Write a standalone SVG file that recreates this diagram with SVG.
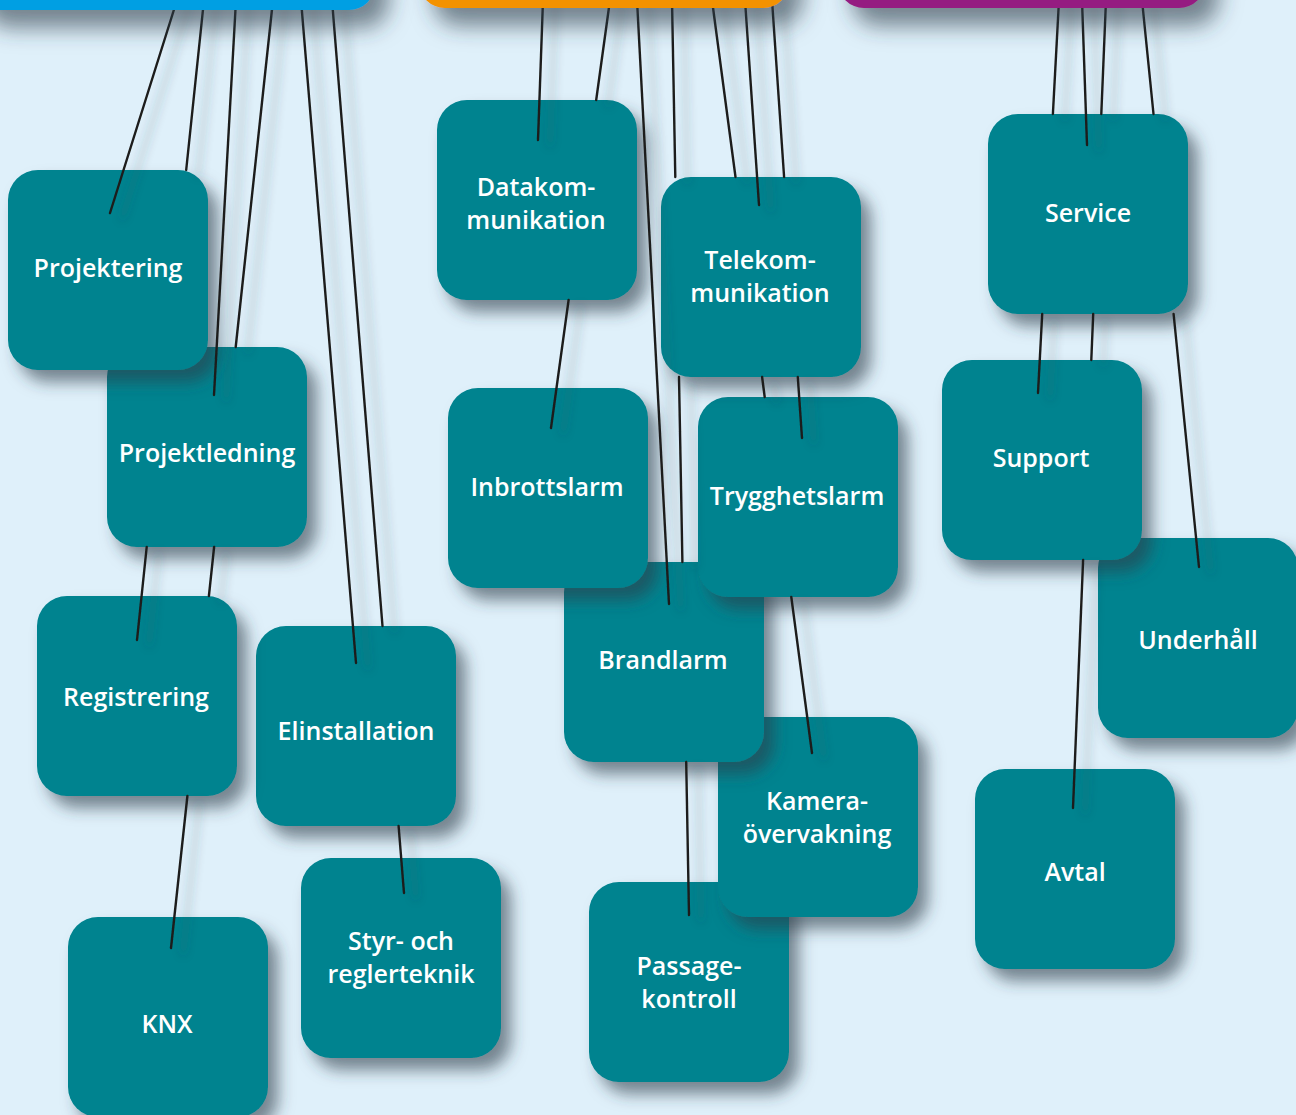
<svg xmlns="http://www.w3.org/2000/svg" width="1296" height="1115" viewBox="0 0 1296 1115">
<defs>
<filter id="nsh" x="-20%" y="-20%" width="160%" height="160%">
<feDropShadow dx="10" dy="12" stdDeviation="8" flood-color="#2d3e4a" flood-opacity="0.6"/>
</filter>
<filter id="bsh" x="-10%" y="-50%" width="130%" height="300%">
<feDropShadow dx="14" dy="18" stdDeviation="11" flood-color="#2d3e4a" flood-opacity="0.6"/>
</filter>
<filter id="lsh" x="-10%" y="-10%" width="130%" height="130%">
<feDropShadow dx="12" dy="6" stdDeviation="5" flood-color="#2d3e4a" flood-opacity="0.4"/>
</filter>
<style>
.node{fill:#00838f;filter:url(#nsh)}
.lbl{fill:#ffffff;font-family:"Open Sans","Noto Sans","Liberation Sans",sans-serif;font-weight:600;font-size:25px;text-anchor:middle}
.wire{stroke:#1d1d1b;stroke-width:2.4;fill:none;stroke-linecap:round}
</style>
</defs>
<rect x="0" y="0" width="1296" height="1115" fill="#dff0fa"/>

<g id="nodes">
<g id="knx"><rect class="node" x="68" y="917" width="200" height="200" rx="30"/><text class="lbl" x="167" y="1033">KNX</text></g>
<g id="passagekontroll"><rect class="node" x="589" y="882" width="200" height="200" rx="30"/><text class="lbl" x="689" y="975">Passage-</text><text class="lbl" x="689" y="1008">kontroll</text></g>
<g id="styr"><rect class="node" x="301" y="858" width="200" height="200" rx="30"/><text class="lbl" x="401" y="950">Styr- och</text><text class="lbl" x="401" y="983">reglerteknik</text></g>
<g id="avtal"><rect class="node" x="975" y="769" width="200" height="200" rx="30"/><text class="lbl" x="1075" y="881">Avtal</text></g>
<g id="kamera"><rect class="node" x="718" y="717" width="200" height="200" rx="30"/><text class="lbl" x="817" y="810">Kamera-</text><text class="lbl" x="817" y="843">övervakning</text></g>
<g id="elinstallation"><rect class="node" x="256" y="626" width="200" height="200" rx="30"/><text class="lbl" x="356" y="740">Elinstallation</text></g>
<g id="registrering"><rect class="node" x="37" y="596" width="200" height="200" rx="30"/><text class="lbl" x="136" y="706">Registrering</text></g>
<g id="brandlarm"><rect class="node" x="564" y="562" width="200" height="200" rx="30"/><text class="lbl" x="663" y="669">Brandlarm</text></g>
<g id="underhall"><rect class="node" x="1098" y="538" width="200" height="200" rx="30"/><text class="lbl" x="1198" y="649">Underhåll</text></g>
<g id="trygghetslarm"><rect class="node" x="698" y="397" width="200" height="200" rx="30"/><text class="lbl" x="797" y="505">Trygghetslarm</text></g>
<g id="inbrottslarm"><rect class="node" x="448" y="388" width="200" height="200" rx="30"/><text class="lbl" x="547" y="496">Inbrottslarm</text></g>
<g id="support"><rect class="node" x="942" y="360" width="200" height="200" rx="30"/><text class="lbl" x="1041" y="467">Support</text></g>
<g id="projektledning"><rect class="node" x="107" y="347" width="200" height="200" rx="30"/><text class="lbl" x="207" y="462">Projektledning</text></g>
<g id="telekom"><rect class="node" x="661" y="177" width="200" height="200" rx="30"/><text class="lbl" x="760" y="269">Telekom-</text><text class="lbl" x="760" y="302">munikation</text></g>
<g id="projektering"><rect class="node" x="8" y="170" width="200" height="200" rx="30"/><text class="lbl" x="108" y="277">Projektering</text></g>
<g id="service"><rect class="node" x="988" y="114" width="200" height="200" rx="30"/><text class="lbl" x="1088" y="222">Service</text></g>
<g id="datakom"><rect class="node" x="437" y="100" width="200" height="200" rx="30"/><text class="lbl" x="536" y="196">Datakom-</text><text class="lbl" x="536" y="229">munikation</text></g>
</g>

<g id="connectors" class="wire" filter="url(#lsh)">
<path d="M177,0 L110,213"/>
<path d="M204,0 L186.2,170 M146.7,547 L137,640"/>
<path d="M236,0 L214,395"/>
<path d="M273,0 L235.7,347 M214.1,547 L208.9,596 M187.4,796 L171,948"/>
<path d="M301,0 L356,663"/>
<path d="M332,0 L382.5,626 M398.6,826 L404,893"/>
<path d="M543,0 L538,140"/>
<path d="M610,0 L596.2,100 M568.6,300 L551,428"/>
<path d="M637,0 L669,604"/>
<path d="M672,0 L675.3,177 M679,377 L682.4,562 M686.2,762 L689,915"/>
<path d="M712,0 L735.5,177 M762.1,377 L764.7,397 M791.3,597 L812,753"/>
<path d="M745,0 L759,205"/>
<path d="M772,0 L784.1,177 M797.8,377 L802,438"/>
<path d="M1059,0 L1052.9,114 M1042.2,314 L1038,393"/>
<path d="M1082,0 L1087,145"/>
<path d="M1106,0 L1101.3,114 M1093.2,314 L1091.3,360 M1083.1,560 L1073,808"/>
<path d="M1142,0 L1153.5,114 M1173.6,314 L1199,567"/>
</g>

<g id="bars">
<rect x="-30" y="-60" width="405" height="70" rx="26" fill="#009fe3" filter="url(#bsh)"/>
<rect x="419" y="-60" width="370" height="68" rx="26" fill="#f39200" filter="url(#bsh)"/>
<rect x="838" y="-60" width="367" height="68" rx="26" fill="#951b81" filter="url(#bsh)"/>
</g>
</svg>
